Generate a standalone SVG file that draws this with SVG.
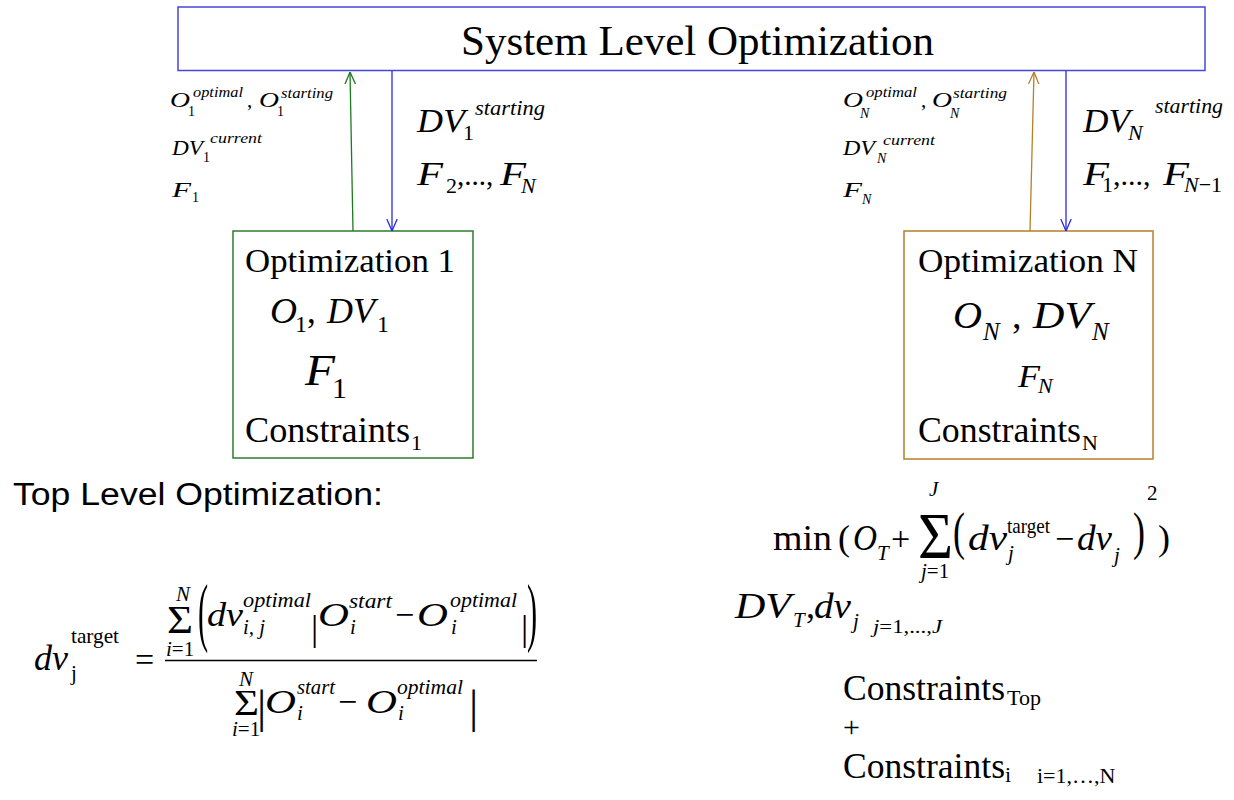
<svg xmlns="http://www.w3.org/2000/svg" width="1234" height="800" viewBox="0 0 1234 800">
<style>
text { font-family: "Liberation Serif", "Times New Roman", "DejaVu Serif", serif; fill: #000; }
.i { font-style: italic; }
.sans { font-family: "Liberation Sans", Arial, sans-serif; }
.box { fill: #fff; stroke-width: 1.5; }
.conn { fill: none; stroke-width: 1.3; }
</style>
<defs>
<marker id="ah-blue" viewBox="0 0 12 12" refX="12" refY="6" markerWidth="12" markerHeight="12" markerUnits="userSpaceOnUse" orient="auto"><path d="M0,0.8 L12,6 L0,11.2" fill="none" stroke="#2a2ae0" stroke-width="1.3"/></marker>
<marker id="ah-green" viewBox="0 0 12 12" refX="12" refY="6" markerWidth="12" markerHeight="12" markerUnits="userSpaceOnUse" orient="auto"><path d="M0,0.8 L12,6 L0,11.2" fill="none" stroke="#1f7a1f" stroke-width="1.3"/></marker>
<marker id="ah-brown" viewBox="0 0 12 12" refX="12" refY="6" markerWidth="12" markerHeight="12" markerUnits="userSpaceOnUse" orient="auto"><path d="M0,0.8 L12,6 L0,11.2" fill="none" stroke="#b4802a" stroke-width="1.3"/></marker>
</defs>
<rect width="1234" height="800" fill="#fff"/>

<g id="system-level">
<rect class="box" x="178" y="7" width="1027" height="63.5" stroke="#4646d8" stroke-width="2"/>
<text x="461" y="55" font-size="43">System Level Optimization</text>
</g>

<g id="optimization-1">
<rect class="box" x="233" y="231" width="240" height="227" stroke="#2b7d2b"/>
<text x="245" y="272" font-size="34" textLength="210" lengthAdjust="spacingAndGlyphs">Optimization 1</text>
<text class="i" x="270" y="323" font-size="35" textLength="27" lengthAdjust="spacingAndGlyphs">O</text>
<text x="295" y="332" font-size="24">1</text>
<text x="307" y="323" font-size="35">,</text>
<text class="i" x="327" y="323" font-size="35" textLength="48" lengthAdjust="spacingAndGlyphs">DV</text>
<text x="377" y="332" font-size="24">1</text>
<text class="i" x="305" y="385" font-size="44" textLength="30" lengthAdjust="spacingAndGlyphs">F</text>
<text x="332" y="398" font-size="30">1</text>
<text x="245" y="442" font-size="35" textLength="165" lengthAdjust="spacingAndGlyphs">Constraints</text>
<text x="411" y="450" font-size="22">1</text>
</g>

<g id="optimization-n">
<rect class="box" x="904" y="231" width="249" height="228" stroke="#b4802a"/>
<text x="918" y="272" font-size="34" textLength="220" lengthAdjust="spacingAndGlyphs">Optimization N</text>
<text class="i" x="953" y="328" font-size="38" textLength="29" lengthAdjust="spacingAndGlyphs">O</text>
<text class="i" x="983" y="340" font-size="25">N</text>
<text x="1012" y="328" font-size="38">,</text>
<text class="i" x="1033" y="328" font-size="38" textLength="58" lengthAdjust="spacingAndGlyphs">DV</text>
<text class="i" x="1092" y="340" font-size="25">N</text>
<text class="i" x="1018" y="387" font-size="32" textLength="22" lengthAdjust="spacingAndGlyphs">F</text>
<text class="i" x="1038" y="393" font-size="22">N</text>
<text x="918" y="442" font-size="35" textLength="163" lengthAdjust="spacingAndGlyphs">Constraints</text>
<text x="1082" y="450" font-size="22">N</text>
</g>

<g id="connectors">
<line class="conn" x1="353" y1="231" x2="350" y2="72" stroke="#1f7a1f" marker-end="url(#ah-green)"/>
<line class="conn" x1="392" y1="71" x2="392" y2="231" stroke="#2a2ae0" marker-end="url(#ah-blue)"/>
<line class="conn" x1="1030" y1="231" x2="1034" y2="72" stroke="#b4802a" marker-end="url(#ah-brown)"/>
<line class="conn" x1="1066" y1="71" x2="1066" y2="231" stroke="#2a2ae0" marker-end="url(#ah-blue)"/>
</g>

<g id="labels-1-up">
<text class="i" x="170" y="107" font-size="22" textLength="20" lengthAdjust="spacingAndGlyphs">O</text>
<text x="188" y="116" font-size="14">1</text>
<text class="i" x="193" y="97" font-size="15" textLength="50" lengthAdjust="spacingAndGlyphs">optimal</text>
<text x="247" y="107" font-size="21">,</text>
<text class="i" x="259" y="107" font-size="22" textLength="20" lengthAdjust="spacingAndGlyphs">O</text>
<text x="277" y="116" font-size="14">1</text>
<text class="i" x="281" y="98" font-size="15" textLength="52" lengthAdjust="spacingAndGlyphs">starting</text>
<text class="i" x="172" y="155" font-size="22" textLength="31" lengthAdjust="spacingAndGlyphs">DV</text>
<text x="203" y="162" font-size="14">1</text>
<text class="i" x="210" y="143" font-size="15" textLength="52" lengthAdjust="spacingAndGlyphs">current</text>
<text class="i" x="172" y="197" font-size="22" textLength="19" lengthAdjust="spacingAndGlyphs">F</text>
<text x="192" y="202" font-size="14">1</text>
</g>

<g id="labels-1-down">
<text class="i" x="417" y="132" font-size="33" textLength="48" lengthAdjust="spacingAndGlyphs">DV</text>
<text x="463" y="140" font-size="22">1</text>
<text class="i" x="475" y="115" font-size="22" textLength="70" lengthAdjust="spacingAndGlyphs">starting</text>
<text class="i" x="417" y="185" font-size="33" textLength="26" lengthAdjust="spacingAndGlyphs">F</text>
<text x="446" y="193" font-size="22">2</text>
<text x="457" y="185" font-size="29">,...,</text>
<text class="i" x="500" y="185" font-size="33" textLength="26" lengthAdjust="spacingAndGlyphs">F</text>
<text class="i" x="521" y="193" font-size="22">N</text>
</g>

<g id="labels-n-up">
<text class="i" x="843" y="107" font-size="22" textLength="20" lengthAdjust="spacingAndGlyphs">O</text>
<text class="i" x="860" y="118" font-size="14">N</text>
<text class="i" x="866" y="97" font-size="15" textLength="51" lengthAdjust="spacingAndGlyphs">optimal</text>
<text x="921" y="107" font-size="21">,</text>
<text class="i" x="932" y="107" font-size="22" textLength="20" lengthAdjust="spacingAndGlyphs">O</text>
<text class="i" x="950" y="118" font-size="14">N</text>
<text class="i" x="953" y="98" font-size="15" textLength="54" lengthAdjust="spacingAndGlyphs">starting</text>
<text class="i" x="843" y="155" font-size="22" textLength="32" lengthAdjust="spacingAndGlyphs">DV</text>
<text class="i" x="877" y="163" font-size="14">N</text>
<text class="i" x="883" y="145" font-size="15" textLength="52" lengthAdjust="spacingAndGlyphs">current</text>
<text class="i" x="843" y="197" font-size="22" textLength="19" lengthAdjust="spacingAndGlyphs">F</text>
<text class="i" x="862" y="204" font-size="14">N</text>
</g>

<g id="labels-n-down">
<text class="i" x="1083" y="132" font-size="33" textLength="47" lengthAdjust="spacingAndGlyphs">DV</text>
<text class="i" x="1128" y="140" font-size="22">N</text>
<text class="i" x="1155" y="113" font-size="22" textLength="68" lengthAdjust="spacingAndGlyphs">starting</text>
<text class="i" x="1083" y="185" font-size="33" textLength="26" lengthAdjust="spacingAndGlyphs">F</text>
<text x="1102" y="192" font-size="22">1</text>
<text x="1113" y="185" font-size="30">,...,</text>
<text class="i" x="1163" y="185" font-size="33" textLength="26" lengthAdjust="spacingAndGlyphs">F</text>
<text x="1184" y="192" font-size="22"><tspan class="i">N</tspan>−1</text>
</g>

<g id="top-level-title">
<text class="sans" x="13" y="505" font-size="31" textLength="370" lengthAdjust="spacingAndGlyphs">Top Level Optimization:</text>
</g>

<g id="formula-target">
<text class="i" x="34" y="670" font-size="36" textLength="34" lengthAdjust="spacingAndGlyphs">dv</text>
<text x="71" y="643" font-size="21" textLength="48" lengthAdjust="spacingAndGlyphs">target</text>
<text x="71" y="680" font-size="21">j</text>
<text x="135" y="671" font-size="34">=</text>
<line x1="165" y1="660.5" x2="537" y2="660.5" stroke="#000" stroke-width="1.5"/>
<!-- numerator -->
<text class="i" x="176" y="601" font-size="21">N</text>
<text x="167" y="633" font-size="40" textLength="26" lengthAdjust="spacingAndGlyphs">Σ</text>
<text x="166" y="656" font-size="21"><tspan class="i">i</tspan>=1</text>
<text transform="translate(198,636.5) scale(0.8,2)" font-size="38">(</text>
<text class="i" x="207" y="626" font-size="34" textLength="36" lengthAdjust="spacingAndGlyphs">dv</text>
<text class="i" x="243" y="607" font-size="21" textLength="68" lengthAdjust="spacingAndGlyphs">optimal</text>
<text class="i" x="243" y="634" font-size="21">i, j</text>
<text x="311" y="640" font-size="36">|</text>
<text class="i" x="318" y="626" font-size="34" textLength="31" lengthAdjust="spacingAndGlyphs">O</text>
<text class="i" x="349" y="608" font-size="21" textLength="43" lengthAdjust="spacingAndGlyphs">start</text>
<text class="i" x="350" y="634" font-size="21">i</text>
<text x="395" y="626" font-size="34">−</text>
<text class="i" x="417" y="626" font-size="34" textLength="31" lengthAdjust="spacingAndGlyphs">O</text>
<text class="i" x="450" y="607" font-size="21" textLength="67" lengthAdjust="spacingAndGlyphs">optimal</text>
<text class="i" x="451" y="634" font-size="21">i</text>
<text x="521" y="640" font-size="36">|</text>
<text transform="translate(527,636.5) scale(0.8,2)" font-size="38">)</text>
<!-- denominator -->
<text class="i" x="239" y="686" font-size="21">N</text>
<text x="234" y="715" font-size="36" textLength="25" lengthAdjust="spacingAndGlyphs">Σ</text>
<text x="232" y="736" font-size="21"><tspan class="i">i</tspan>=1</text>
<text x="257" y="722" font-size="46">|</text>
<text class="i" x="265" y="713" font-size="34" textLength="31" lengthAdjust="spacingAndGlyphs">O</text>
<text class="i" x="297" y="694" font-size="21" textLength="38" lengthAdjust="spacingAndGlyphs">start</text>
<text class="i" x="297" y="720" font-size="21">i</text>
<text x="338" y="713" font-size="34">−</text>
<text class="i" x="366" y="713" font-size="34" textLength="31" lengthAdjust="spacingAndGlyphs">O</text>
<text class="i" x="397" y="694" font-size="21" textLength="66" lengthAdjust="spacingAndGlyphs">optimal</text>
<text class="i" x="398" y="720" font-size="21">i</text>
<text x="469" y="722" font-size="46">|</text>
</g>

<g id="formula-min">
<text x="773" y="550" font-size="36" textLength="59" lengthAdjust="spacingAndGlyphs">min</text>
<text x="838" y="550" font-size="36">(</text>
<text class="i" x="853" y="550" font-size="36" textLength="24" lengthAdjust="spacingAndGlyphs">O</text>
<text class="i" x="877" y="560" font-size="21">T</text>
<text x="891" y="550" font-size="34">+</text>
<text class="i" x="929" y="496" font-size="21">J</text>
<text x="918" y="558" font-size="66" textLength="35" lengthAdjust="spacingAndGlyphs">Σ</text>
<text x="921" y="578" font-size="21"><tspan class="i">j</tspan>=1</text>
<text transform="translate(953,548.7) scale(1,1.46)" font-size="36">(</text>
<text class="i" x="968" y="550" font-size="36" textLength="39" lengthAdjust="spacingAndGlyphs">dv</text>
<text x="1007" y="533" font-size="21" textLength="43" lengthAdjust="spacingAndGlyphs">target</text>
<text class="i" x="1008" y="560" font-size="21">j</text>
<text x="1055" y="550" font-size="34">−</text>
<text class="i" x="1077" y="550" font-size="36" textLength="35" lengthAdjust="spacingAndGlyphs">dv</text>
<text class="i" x="1114" y="562" font-size="21">j</text>
<text transform="translate(1133,548.7) scale(1,1.46)" font-size="36">)</text>
<text x="1147" y="500" font-size="21">2</text>
<text x="1158" y="550" font-size="36">)</text>
</g>

<g id="formula-vars">
<text class="i" x="735" y="618" font-size="36" textLength="56" lengthAdjust="spacingAndGlyphs">DV</text>
<text class="i" x="793" y="627" font-size="21">T</text>
<text x="806" y="618" font-size="36">,</text>
<text class="i" x="814" y="618" font-size="36" textLength="37" lengthAdjust="spacingAndGlyphs">dv</text>
<text class="i" x="853" y="628" font-size="21">j</text>
<text x="873" y="633" font-size="18" textLength="69" lengthAdjust="spacingAndGlyphs"><tspan class="i">j</tspan>=1,...,<tspan class="i">J</tspan></text>
</g>

<g id="constraints-top">
<text x="843" y="700" font-size="35" textLength="162" lengthAdjust="spacingAndGlyphs">Constraints</text>
<text x="1007" y="705" font-size="22">Top</text>
<text x="843" y="737" font-size="30">+</text>
<text x="843" y="778" font-size="35" textLength="162" lengthAdjust="spacingAndGlyphs">Constraints</text>
<text x="1005" y="782" font-size="22">i</text>
<text x="1037" y="783" font-size="22">i=1,…,N</text>
</g>
</svg>
